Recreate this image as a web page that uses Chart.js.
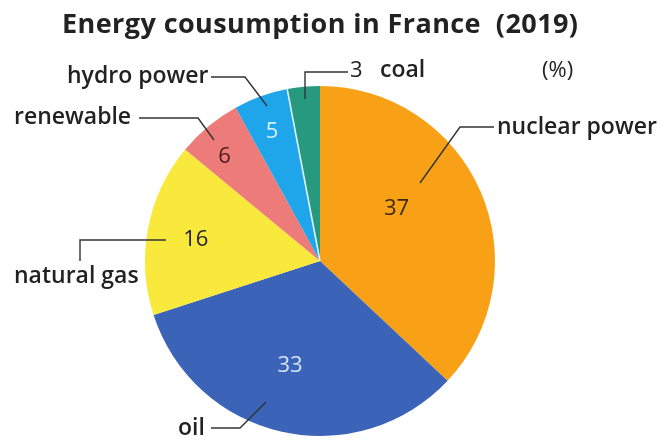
<!DOCTYPE html>
<html>
<head>
<meta charset="utf-8">
<script src="https://cdn.jsdelivr.net/npm/chart.js@4.4.1/dist/chart.umd.min.js"></script>
<style>
  html, body { margin: 0; padding: 0; background: #fff; }
  #wrap { width: 667px; height: 440px; }
</style>
</head>
<body>
<div id="wrap"><canvas id="pie" width="667" height="440"></canvas></div>
<script>
// energy mix, clockwise from 12 o'clock
const sources = ['nuclear power', 'oil', 'natural gas', 'renewable', 'hydro power', 'coal'];
const shares = [37, 33, 16, 6, 5, 3];
const sliceColors = ['#f8a116', '#3b64b8', '#f9e93c', '#ec7b79', '#1ea5ea', '#26997f'];
const valueColors = ['#3b2a12', '#d4e3f7', '#1f1f1f', '#4a1c1c', '#d6f1ff', null];

// where each value sits inside its slice: angle (deg, clockwise from top) and radius fraction
const valueSpots = [[55.6, 0.53], [196, 0.62], [279.6, 0.72], [317.6, 0.81], [339.7, 0.79], null];

// callout text (baseline position) and leader lines, canvas px
const callouts = [
  { text: 'nuclear power', x: 497, y: 134, line: [[494, 127], [460, 127], [420, 183]] },
  { text: 'oil', x: 178, y: 435, line: [[211, 428], [240, 428], [266, 402]] },
  { text: 'natural gas', x: 14, y: 283, line: [[166, 240], [80, 240], [80, 261]] },
  { text: 'renewable', x: 14, y: 124, line: [[139, 118], [198, 118], [214, 140]] },
  { text: 'hydro power', x: 67, y: 83, line: [[211, 77], [245, 77], [267, 106]] },
  { text: 'coal', x: 380, y: 77, line: [[348, 72], [305, 72], [305, 99]] }
];

const FONT = '"Open Sans", "Noto Sans", sans-serif';
const TITLE = 'Energy cousumption in France  (2019)';

const labelPlugin = {
  id: 'pieLabels',
  afterDatasetsDraw(chart) {
    // pale seam between hydro power and coal
    const ctx = chart.ctx;
    const coal = chart.getDatasetMeta(0).data[5];
    ctx.save();
    ctx.strokeStyle = '#dff3f6';
    ctx.lineWidth = 1.6;
    ctx.beginPath();
    ctx.moveTo(coal.x, coal.y);
    ctx.lineTo(coal.x + Math.cos(coal.startAngle) * coal.outerRadius,
               coal.y + Math.sin(coal.startAngle) * coal.outerRadius);
    ctx.stroke();
    ctx.restore();
  },
  afterDraw(chart) {
    const ctx = chart.ctx;
    const arcs = chart.getDatasetMeta(0).data;
    ctx.save();
    ctx.textBaseline = 'alphabetic';

    // title, spread to span 62..578
    ctx.fillStyle = '#222';
    ctx.font = '700 27px ' + FONT;
    ctx.textAlign = 'left';
    const w = ctx.measureText(TITLE).width;
    ctx.letterSpacing = ((516 - w) / (TITLE.length - 1)).toFixed(2) + 'px';
    ctx.fillText(TITLE, 62, 33);
    ctx.letterSpacing = '0px';

    ctx.font = '500 22px ' + FONT;
    ctx.fillText('(%)', 542, 77);

    // leader lines
    ctx.strokeStyle = '#333';
    ctx.lineWidth = 1.4;
    callouts.forEach(c => {
      ctx.beginPath();
      c.line.forEach((p, i) => i ? ctx.lineTo(p[0], p[1]) : ctx.moveTo(p[0], p[1]));
      ctx.stroke();
    });

    // category names
    ctx.fillStyle = '#222';
    ctx.font = '600 23px ' + FONT;
    callouts.forEach(c => ctx.fillText(c.text, c.x, c.y));

    // values
    ctx.font = '500 22px ' + FONT;
    ctx.textAlign = 'center';
    ctx.textBaseline = 'middle';
    shares.forEach((v, i) => {
      const spot = valueSpots[i];
      if (!spot) return;
      const a = arcs[i];
      const ang = spot[0] * Math.PI / 180;
      const r = a.outerRadius * spot[1];
      ctx.fillStyle = valueColors[i];
      ctx.fillText(String(v), a.x + Math.sin(ang) * r, a.y - Math.cos(ang) * r);
    });
    // coal value sits at the end of its leader
    ctx.fillStyle = '#222';
    ctx.textAlign = 'left';
    ctx.textBaseline = 'alphabetic';
    ctx.fillText(String(shares[5]), 350, 77);

    ctx.restore();
  }
};

new Chart(document.getElementById('pie'), {
  type: 'pie',
  data: {
    labels: sources,
    datasets: [{
      data: shares,
      backgroundColor: sliceColors,
      borderWidth: 0
    }]
  },
  options: {
    responsive: false,
    animation: false,
    layout: { padding: { top: 86, bottom: 4, left: 0, right: 27 } },
    plugins: {
      legend: { display: false },
      tooltip: { enabled: false }
    }
  },
  plugins: [labelPlugin]
});
</script>
</body>
</html>
